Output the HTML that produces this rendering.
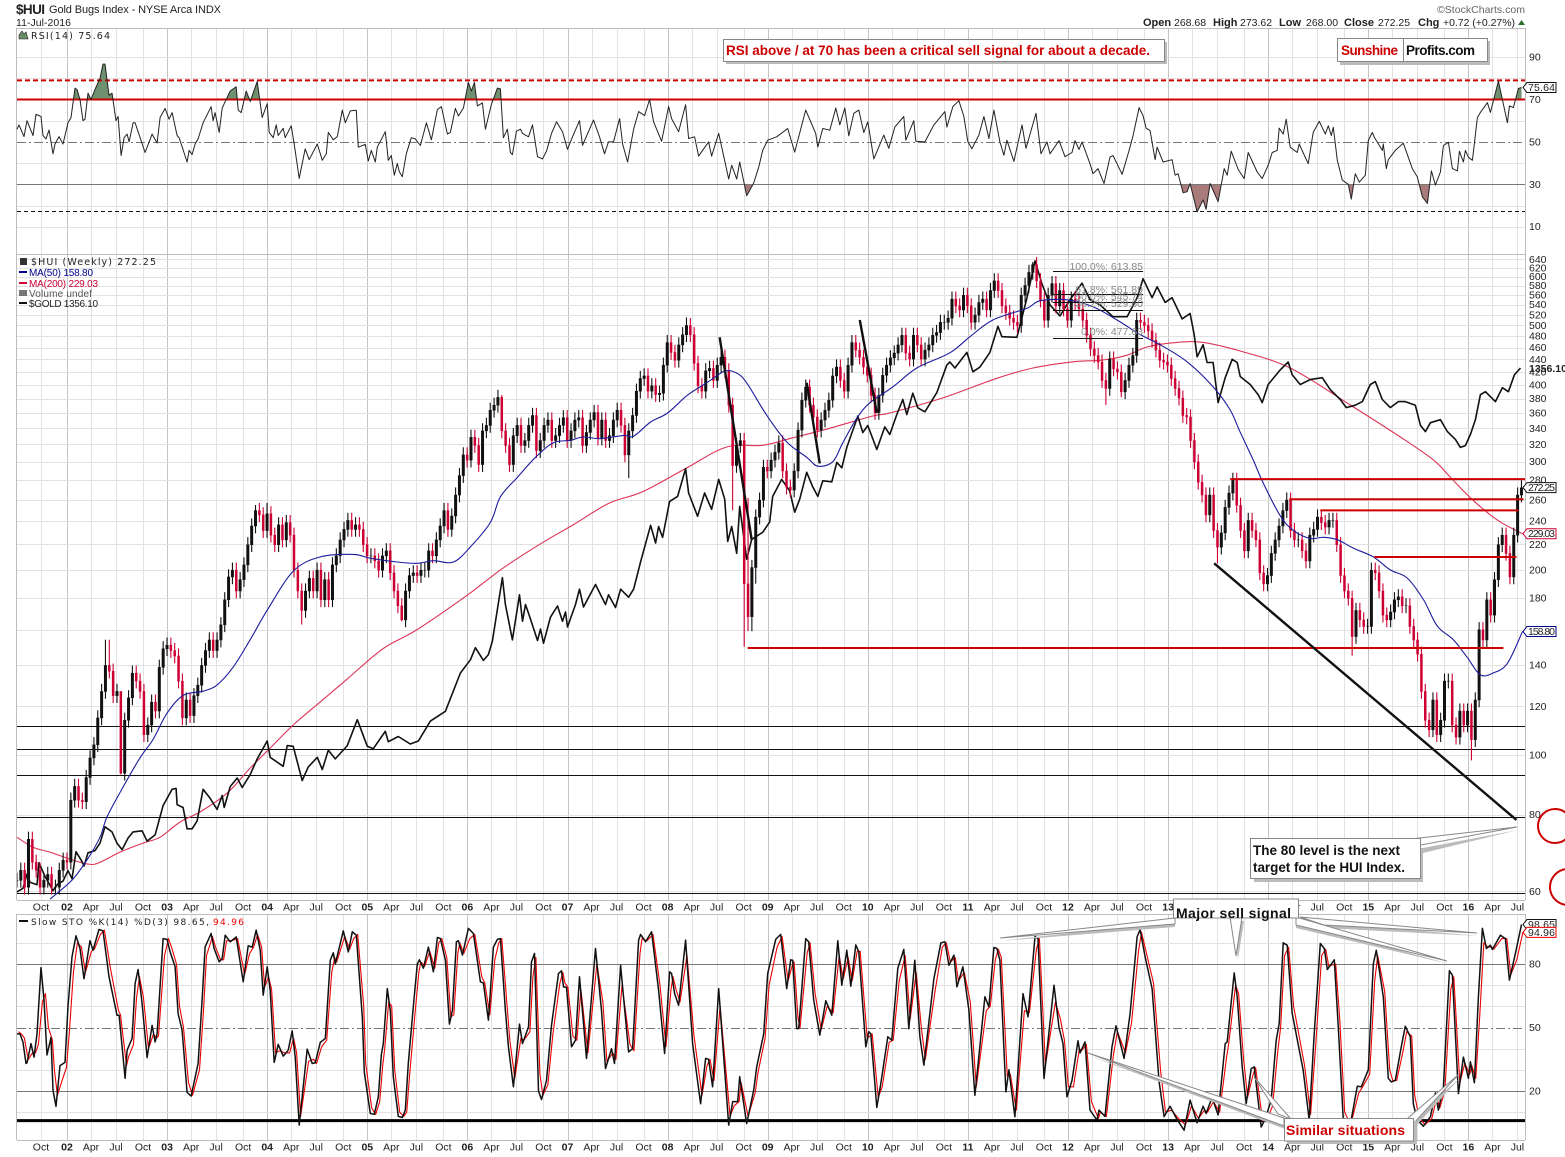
<!DOCTYPE html>
<html lang="en">
<head>
<meta charset="utf-8">
<title>$HUI Gold Bugs Index chart</title>
<style>
html,body{margin:0;padding:0;background:#fff;width:1565px;height:1157px;overflow:hidden}
svg{position:absolute;left:0;top:0;display:block}
text{font-family:"Liberation Sans",Arial,sans-serif;fill:#222}
.dv{font-family:"DejaVu Sans","Liberation Sans",sans-serif}
.note{font-weight:bold;font-size:13.5px}
</style>
</head>
<body>
<svg id="chart" xmlns="http://www.w3.org/2000/svg" width="1565" height="1157" viewBox="0 0 1565 1157">
  <defs>
    <clipPath id="clip-main"><rect x="17" y="254" width="1508" height="646"/></clipPath>
    <clipPath id="clip-rsi"><rect x="17" y="28" width="1508" height="226"/></clipPath>
    <clipPath id="clip-sto"><rect x="17" y="914" width="1508" height="226"/></clipPath>
    <clipPath id="clip-above"><rect x="17" y="28" width="1508" height="71.5"/></clipPath>
    <clipPath id="clip-below"><rect x="17" y="184" width="1508" height="70"/></clipPath>
  </defs>
  <g id="grid"></g>
  <g id="rsi"></g>
  <g id="main"></g>
  <g id="sto"></g>
  <g id="axes"></g>

  <g>
    <text x="16" y="14" font-size="13.5" font-weight="bold" textLength="29">$HUI</text>
    <text x="49" y="13" font-size="11" textLength="172">Gold Bugs Index - NYSE Arca INDX</text>
    <text x="16" y="26" font-size="10.5" textLength="55">11-Jul-2016</text>
    <text x="1437" y="13" font-size="10.5" fill="#666" style="fill:#666" textLength="88">©StockCharts.com</text>
    <g font-size="10.5">
      <text x="1143" y="26" font-weight="bold" font-size="11">Open</text><text x="1174" y="26">268.68</text>
      <text x="1213" y="26" font-weight="bold" font-size="11">High</text><text x="1240" y="26">273.62</text>
      <text x="1279" y="26" font-weight="bold" font-size="11">Low</text><text x="1306" y="26">268.00</text>
      <text x="1344" y="26" font-weight="bold" font-size="11">Close</text><text x="1378" y="26">272.25</text>
      <text x="1418" y="26" font-weight="bold" font-size="11">Chg</text><text x="1443" y="26" textLength="72">+0.72 (+0.27%)</text>
      <polygon points="1518,25 1525,25 1521.5,20" fill="#2a6e2a"/>
    </g>
  </g>

  <g>
    <polygon points="19,39 19,35 22,31 24,34 26,32 28,39" fill="#6b8f6b" stroke="#222" stroke-width="0.6"/>
    <text class="dv" x="31" y="39" font-size="9.5" textLength="79">RSI(14) 75.64</text>
  </g>

  <g>
    <rect x="20" y="258" width="7" height="7" fill="#333"/>
    <text class="dv" x="31" y="265" font-size="9.5" textLength="125">$HUI (Weekly) 272.25</text>
    <rect x="19" y="271" width="8" height="2" fill="#00008b"/>
    <text x="29" y="276" font-size="10" style="fill:#00008b" textLength="64">MA(50) 158.80</text>
    <rect x="19" y="282" width="8" height="2" fill="#cc0033"/>
    <text x="29" y="287" font-size="10" style="fill:#cc0033" textLength="69">MA(200) 229.03</text>
    <rect x="19" y="290" width="8" height="6" fill="#777"/>
    <text x="29" y="297" font-size="10" style="fill:#555" textLength="63">Volume undef</text>
    <rect x="19" y="302" width="8" height="2" fill="#111"/>
    <text x="29" y="307" font-size="10" textLength="69">$GOLD 1356.10</text>
  </g>

  <g>
    <rect x="19" y="920" width="9" height="2" fill="#111"/>
    <text class="dv" x="31" y="925" font-size="9" textLength="178">Slow STO %K(14) %D(3) 98.65,</text>
    <text class="dv" x="213" y="925" font-size="9" style="fill:#e00" textLength="31">94.96</text>
  </g>

  <g font-size="10.5" text-anchor="end">
    <text x="1143" y="270" style="fill:#888">100.0%: 613.85</text>
    <text x="1143" y="293" style="fill:#888">61.8%: 561.89</text>
    <text x="1143" y="300" style="fill:#888">50.0%: 545.74</text>
    <text x="1143" y="307" style="fill:#888">38.2%: 529.60</text>
    <text x="1143" y="335" style="fill:#888">0.0%: 477.63</text>
  </g>

  <g>
    <rect x="726" y="42" width="441" height="22" fill="#bbb"/>
    <rect x="723.5" y="39.5" width="441" height="22" fill="#fff" stroke="#888"/>
    <text class="note" x="726" y="55" style="fill:#cc0000" textLength="424">RSI above / at 70 has been a critical sell signal for about a decade.</text>
  </g>
  <g>
    <rect x="1340" y="41" width="150" height="24" fill="#bbb"/>
    <rect x="1337.5" y="38.5" width="66" height="23" fill="#fff" stroke="#888"/>
    <rect x="1403.5" y="38.5" width="84" height="23" fill="#fff" stroke="#888"/>
    <text class="note" x="1341" y="55" style="fill:#cc0000" textLength="57">Sunshine</text>
    <text class="note" x="1406" y="55" style="fill:#111" textLength="69">Profits.com</text>
  </g>
  <g>
    <polygon points="1423,848 1518,830 1423,853 1423,882 1254,882 1254,842" fill="#bbb"/>
    <polygon points="1415,838.5 1517,827 1421,845" fill="#fff" stroke="#888"/>
    <rect x="1250.5" y="838.5" width="170" height="40" fill="#fff" stroke="#888"/>
    <text class="note" x="1253" y="855" style="fill:#111" textLength="147">The 80 level is the next</text>
    <text class="note" x="1253" y="872" style="fill:#111" textLength="152">target for the HUI Index.</text>
  </g>
  <g fill="none" stroke="#cc0000" stroke-width="2">
    <circle cx="1555" cy="826" r="17"/>
    <circle cx="1568" cy="887" r="18"/>
  </g>
  <g>
    <polygon points="1175,921 1000,941 1175,927" fill="#bbb"/>
    <polygon points="1232,921 1238,959 1244,921" fill="#bbb"/>
    <polygon points="1296,921 1449,964 1296,928" fill="#bbb"/>
    <polygon points="1300,920 1479,936 1324,928" fill="#bbb"/>
    <polygon points="1175,918 1000,938 1175,924" fill="#fff" stroke="#888"/>
    <polygon points="1230,917 1236,956 1242,917" fill="#fff" stroke="#888"/>
    <polygon points="1296,917 1447,961 1296,925" fill="#fff" stroke="#888"/>
    <polygon points="1300,917 1477,933 1324,925" fill="#fff" stroke="#888"/>
    <rect x="1173.5" y="899" width="125" height="19" fill="#fff" stroke="#888"/>
    <text class="note" x="1176" y="918" font-size="14" style="fill:#111;font-size:14px" textLength="115">Major sell signal</text>
  </g>
  <g>
    <polygon points="1285,1121 1090,1056 1285,1129" fill="#bbb"/>
    <polygon points="1410,1121 1460,1078 1415,1127" fill="#bbb"/>
    <polygon points="1284,1118 1088,1053 1284,1126" fill="#fff" stroke="#888"/>
    <polygon points="1291,1119 1254,1077 1278,1114" fill="#fff" stroke="#888"/>
    <polygon points="1408,1118 1458,1075 1413,1124" fill="#fff" stroke="#888"/>
    <rect x="1287" y="1121" width="130" height="23" fill="#bbb"/>
    <rect x="1284.5" y="1118.5" width="129" height="22.5" fill="#fff" stroke="#888"/>
    <text class="note" x="1286" y="1135" style="fill:#cc0000;font-size:14px" textLength="119">Similar situations</text>
  </g>
</svg>

<script>
/* ---------- Time axis ticks ---------- */
const tickYears = [2002,2003,2004,2005,2006,2007,2008,2009,2010,2011,2012,2013,2014,2015,2016];
const yearLabels = ['02','03','04','05','06','07','08','09','10','11','12','13','14','15','16'];
const quarterNames = ['Apr','Jul','Oct'];
const quarterOffsets = [0.24,0.49,0.76];

/* ---------- Value-axis ticks ---------- */
const mainTicks = [640,620,600,580,560,540,520,500,480,460,440,420,400,380,360,340,320,300,280,260,240,220,200,180,160,140,120,100,80,60];
const rsiLabels = [90,70,50,30,10];
const rsiGrid = [90,80,60,40,20,10];
const stoLabels = [80,50,20];
const stoGrid = [90,70,60,40,30,10];

/* ---------- HUI candles: one close every two weeks, grouped by year ---------- */
const barStartYear = 2001.5;
const barStepYears = 15.03/391;
const huiCloses = [
62.6,65,61,73,67,65,61,62.6,64,61,61,65,67.5,
67,84.5,89,84.5,84,92,99,104,115,127,140,137,125,127,93.5,114,124,136,132,127,108,112,122,118,139,149,
151,148,145,132,115,123,116,125,130,140,148,154,148,154,163,179,195,200,185,193,204,220,236,250,246,232,
247,228,220,237,224,239,228,200,185,172,185,194,185,200,179,193,179,204,211,224,233,241,233,237,233,220,
211,211,207,200,211,215,198,185,175,166,185,196,198,196,200,200,215,211,224,236,250,233,245,265,285,308,
302,329,319,297,337,344,364,371,382,337,319,297,331,344,319,325,344,357,313,325,344,351,325,331,344,354,
325,337,351,354,319,335,351,361,328,351,325,331,351,364,344,308,337,357,391,410,414,391,399,386,388,431,
469,452,439,465,483,500,483,434,399,391,422,426,407,431,444,422,371,296,319,325,190,168,202,244,260,294,
290,302,311,322,290,273,270,290,338,378,397,371,355,338,351,364,378,414,428,407,391,431,469,456,444,428,
415,385,361,385,415,431,443,451,465,482,451,441,482,465,441,456,465,482,487,506,506,514,552,538,530,560,
538,506,520,545,552,530,570,591,570,538,525,514,506,500,560,581,610,628,591,550,510,560,585,538,570,532,
510,552,545,532,510,482,458,447,436,407,395,441,425,420,390,407,431,447,510,506,500,490,473,456,439,436,
431,410,395,381,357,355,325,300,278,265,246,265,232,218,230,253,267,280,255,232,215,241,232,224,198,190,
196,213,224,236,250,260,232,224,224,215,207,228,233,244,239,235,241,241,220,196,185,180,156,172,166,162,
162,200,198,185,169,166,171,179,181,175,175,162,154,146,127,114,110,123,108,114,132,132,112,107,118,112,
118,106,123,160,154,179,169,193,220,228,213,195,228,265,272.25];
const highSpikeBars = [23,24,27,62,65,126,174,190,264];
const highSpikeValues = [154,154,120,255,257,385,515,262,634];
const lowSpikeBars = [27,74,100,159,186,189,190,191,192,283,287,312,347,378];
const lowSpikeValues = [93,163,165,282,250,150,159,159,190,371,382,205,145,98];
const defaultWickPct = 0.028;

/* ---------- Moving averages ---------- */
const ma50Dates = [2001.83,2002.05,2002.20,2002.33,2002.40,2002.56,2002.73,2002.86,2003.00,2003.16,2003.36,2003.50,2003.66,2003.83,2004.00,2004.26,2004.53,2004.86,2005.03,2005.30,2005.50,2005.66,2005.86,2006.03,2006.23,2006.33,2006.50,2006.68,2006.86,2007.03,2007.16,2007.33,2007.56,2007.66,2007.83,2008.00,2008.20,2008.40,2008.57,2008.69,2008.79,2008.99,2009.19,2009.39,2009.50,2009.65,2009.75,2009.89,2010.02,2010.25,2010.49,2010.82,2011.02,2011.25,2011.59,2011.72,2011.99,2012.25,2012.49,2012.72,2012.92,2013.19,2013.45,2013.62,2013.72,2013.85,2013.95,2014.12,2014.25,2014.42,2014.55,2014.69,2014.85,2015.05,2015.22,2015.39,2015.55,2015.69,2015.85,2015.99,2016.12,2016.25,2016.39,2016.54];
const ma50Values = [58.3,62.6,67.5,73.5,79.3,88.7,99,106,117,125,127,130,139,154,172,199,210,212,209,206,205,207,206,218,239,263,283,305,322,325,329,327,331,330,348,360,385,404,421,418,403,357,323,305,295,300,322,353,374,397,426,451,479,510,533,548,550,536,510,483,465,436,397,364,335,302,277,245,232,225,226,224,217,210,200,194,179,162,154,144,135,136,141,158.8];
const ma200Dates = [2001.50,2001.66,2001.83,2002.03,2002.20,2002.31,2002.53,2002.76,2002.93,2003.13,2003.33,2003.60,2003.83,2004.06,2004.26,2004.53,2004.80,2005.16,2005.50,2006.00,2006.33,2006.70,2007.06,2007.42,2007.75,2008.19,2008.59,2008.95,2009.25,2009.62,2010.05,2010.22,2010.75,2011.29,2011.65,2012.05,2012.35,2012.59,2012.79,2013.09,2013.35,2013.72,2014.22,2014.82,2015.32,2015.65,2015.82,2016.02,2016.29,2016.54];
const ma200Values = [73.5,70.8,69.5,67.7,66.5,66.7,69.5,71.9,73.5,77.8,80.8,86.7,95.2,103.8,111.9,122,133,149,160,182,200,219,237,257,268,293,317,319,328,340,356,360,381,410,426,436,439,447,461,469,469,454,426,371,329,302,283,262,241,229.03];

/* ---------- $GOLD overlay ---------- */
const goldDates = [2001.50,2001.56,2001.60,2001.63,2001.70,2001.72,2001.78,2001.86,2001.90,2001.96,2002.01,2002.05,2002.09,2002.15,2002.17,2002.21,2002.28,2002.33,2002.38,2002.45,2002.50,2002.55,2002.61,2002.66,2002.75,2002.80,2002.88,2002.96,2003.05,2003.09,2003.10,2003.16,2003.20,2003.25,2003.30,2003.36,2003.43,2003.50,2003.55,2003.57,2003.63,2003.70,2003.75,2003.83,2003.90,2004.00,2004.03,2004.16,2004.20,2004.26,2004.35,2004.41,2004.50,2004.55,2004.61,2004.68,2004.80,2004.90,2005.00,2005.06,2005.18,2005.21,2005.31,2005.43,2005.51,2005.63,2005.78,2005.93,2006.03,2006.08,2006.16,2006.21,2006.25,2006.35,2006.38,2006.45,2006.52,2006.55,2006.58,2006.63,2006.70,2006.73,2006.76,2006.83,2006.90,2006.95,2006.98,2007.00,2007.08,2007.12,2007.16,2007.28,2007.38,2007.41,2007.48,2007.53,2007.61,2007.66,2007.73,2007.83,2007.88,2007.91,2007.95,2008.02,2008.10,2008.18,2008.21,2008.30,2008.37,2008.44,2008.51,2008.57,2008.60,2008.64,2008.69,2008.72,2008.79,2008.84,2008.95,2009.02,2009.05,2009.14,2009.22,2009.27,2009.32,2009.39,2009.45,2009.50,2009.55,2009.64,2009.69,2009.74,2009.79,2009.90,2009.95,2010.00,2010.09,2010.17,2010.22,2010.29,2010.35,2010.39,2010.45,2010.50,2010.57,2010.69,2010.79,2010.82,2010.87,2010.99,2011.05,2011.12,2011.22,2011.30,2011.34,2011.49,2011.59,2011.67,2011.74,2011.82,2011.92,2012.02,2012.14,2012.22,2012.32,2012.45,2012.59,2012.69,2012.75,2012.84,2012.89,2012.97,2013.04,2013.14,2013.22,2013.26,2013.29,2013.35,2013.39,2013.45,2013.50,2013.57,2013.64,2013.69,2013.72,2013.82,2013.90,2013.94,2014.00,2014.04,2014.12,2014.20,2014.24,2014.32,2014.42,2014.54,2014.62,2014.72,2014.78,2014.87,2014.94,2015.02,2015.07,2015.14,2015.22,2015.30,2015.37,2015.47,2015.52,2015.57,2015.62,2015.72,2015.79,2015.87,2015.92,2015.97,2016.02,2016.07,2016.12,2016.17,2016.27,2016.34,2016.40,2016.46,2016.52];
const goldValues = [257,260,272,265,263,282,270,258,263,266,275,268,292,283,279,291,293,300,316,311,300,294,305,311,312,302,308,338,356,357,339,336,314,314,322,356,346,334,349,336,359,369,358,373,392,415,394,383,409,408,366,382,394,379,403,392,409,444,408,405,428,414,421,411,415,442,456,515,537,558,536,546,570,697,640,572,660,607,640,611,571,592,566,615,637,607,625,596,640,672,635,682,640,660,634,672,655,672,733,823,778,820,792,888,902,985,912,847,912,866,952,894,782,820,753,874,739,787,805,832,902,952,918,858,894,974,930,902,948,945,1005,988,1054,1164,1105,1130,1047,1125,1098,1170,1227,1170,1252,1195,1180,1255,1370,1382,1356,1425,1340,1360,1425,1548,1498,1495,1695,1905,1771,1657,1600,1685,1775,1685,1657,1596,1596,1695,1800,1695,1755,1670,1695,1585,1612,1510,1405,1460,1380,1380,1215,1315,1394,1380,1320,1287,1246,1215,1287,1307,1348,1382,1327,1287,1307,1315,1266,1227,1196,1205,1219,1287,1299,1227,1196,1219,1219,1205,1131,1108,1140,1151,1108,1081,1054,1060,1098,1151,1246,1258,1219,1274,1258,1327,1356.1];

/* ---------- Horizontal support / resistance and trend lines ---------- */
const blackLevels = [111.5,102.3,92.8,79.3,59.6];
const redLevelValues = [149.3,281,260.6,250,209.9];
const redLevelStarts = [2008.80,2013.62,2014.21,2014.52,2015.06];
const redLevelEnds = [2016.35,2016.57,2016.55,2016.50,2016.48];
const fibValues = [613.85,561.89,545.74,529.60,477.63];
const fibStart = 2011.85;
const fibEnd = 2012.75;
const trendStartDates = [2008.52,2009.39,2009.92,2013.46];
const trendStartValues = [478,403,510,205];
const trendEndDates = [2008.84,2009.52,2010.09,2016.48];
const trendEndValues = [224,298,360,78.4];

/* ---------- RSI(14) ---------- */
const rsiDates = [2001.50,2001.52,2001.57,2001.60,2001.66,2001.69,2001.74,2001.76,2001.79,2001.82,2001.86,2001.88,2001.92,2001.96,2002.01,2002.04,2002.08,2002.10,2002.13,2002.16,2002.18,2002.21,2002.24,2002.28,2002.33,2002.36,2002.38,2002.42,2002.45,2002.49,2002.51,2002.54,2002.57,2002.60,2002.62,2002.66,2002.68,2002.78,2002.85,2002.90,2002.93,2002.98,2003.02,2003.05,2003.10,2003.12,2003.20,2003.22,2003.25,2003.28,2003.31,2003.36,2003.44,2003.46,2003.48,2003.52,2003.55,2003.58,2003.63,2003.69,2003.71,2003.74,2003.79,2003.83,2003.90,2003.95,2004.00,2004.02,2004.06,2004.09,2004.11,2004.16,2004.18,2004.24,2004.27,2004.32,2004.38,2004.42,2004.50,2004.55,2004.59,2004.61,2004.66,2004.70,2004.75,2004.78,2004.83,2004.89,2004.91,2004.98,2005.01,2005.04,2005.08,2005.10,2005.18,2005.21,2005.24,2005.27,2005.30,2005.32,2005.35,2005.39,2005.44,2005.48,2005.53,2005.59,2005.64,2005.70,2005.74,2005.80,2005.83,2005.88,2005.91,2005.96,2006.01,2006.04,2006.07,2006.10,2006.15,2006.18,2006.24,2006.30,2006.33,2006.36,2006.40,2006.43,2006.45,2006.49,2006.53,2006.55,2006.61,2006.65,2006.70,2006.75,2006.79,2006.84,2006.89,2006.95,2007.00,2007.05,2007.12,2007.15,2007.26,2007.32,2007.37,2007.41,2007.46,2007.52,2007.55,2007.60,2007.66,2007.71,2007.77,2007.82,2007.86,2007.94,2008.01,2008.04,2008.11,2008.18,2008.21,2008.27,2008.31,2008.41,2008.44,2008.51,2008.61,2008.64,2008.69,2008.72,2008.79,2008.86,2008.91,2008.95,2009.00,2009.09,2009.20,2009.27,2009.38,2009.48,2009.50,2009.55,2009.62,2009.68,2009.72,2009.77,2009.81,2009.86,2009.91,2009.96,2010.00,2010.06,2010.16,2010.21,2010.27,2010.36,2010.38,2010.46,2010.48,2010.57,2010.66,2010.77,2010.79,2010.85,2010.91,2010.96,2011.00,2011.04,2011.11,2011.16,2011.21,2011.26,2011.32,2011.36,2011.39,2011.46,2011.54,2011.58,2011.68,2011.73,2011.79,2011.82,2011.91,2011.97,2012.04,2012.07,2012.11,2012.14,2012.22,2012.25,2012.30,2012.36,2012.42,2012.45,2012.49,2012.54,2012.61,2012.65,2012.71,2012.75,2012.78,2012.82,2012.87,2012.89,2012.95,2013.04,2013.07,2013.10,2013.15,2013.19,2013.22,2013.29,2013.35,2013.38,2013.42,2013.50,2013.56,2013.59,2013.63,2013.70,2013.76,2013.80,2013.89,2013.94,2014.00,2014.04,2014.09,2014.11,2014.15,2014.18,2014.22,2014.29,2014.31,2014.40,2014.45,2014.51,2014.57,2014.60,2014.63,2014.65,2014.69,2014.74,2014.80,2014.83,2014.87,2014.91,2014.97,2015.00,2015.04,2015.06,2015.14,2015.15,2015.18,2015.20,2015.27,2015.35,2015.44,2015.49,2015.54,2015.59,2015.63,2015.67,2015.72,2015.75,2015.80,2015.84,2015.89,2015.91,2015.95,2015.97,2016.00,2016.04,2016.09,2016.12,2016.19,2016.22,2016.30,2016.39,2016.41,2016.45,2016.50,2016.53];
const rsiValues = [56,58,52.5,60,53,63,62,53,51.4,55.6,44.4,49,52.5,49,59,61.5,75.4,74.7,70,60,60.7,73,70,74.7,80,86.7,86.7,72,73,60,62,43.6,52,53.7,50,59,59,45,53.7,49.5,61.5,65.8,60.7,63.8,53,52,40.5,46,44,49,51.4,59,66.6,60,63.8,54.5,66,69,74,76,65,63.8,74,69,78.5,61.5,68,54.5,52,58,53,56.4,52,57.6,49,32.8,46.7,41.6,49,41.3,44.4,54.5,51,52.5,65,59,64.6,64.9,47.5,48.8,41,46,40.5,47.5,54.8,41.3,43.6,34.3,39.8,36,33.6,44.4,52,51.4,48.3,59,51,65.3,66.6,53.7,54.5,65.8,62.2,66,78,74,78,67,68.4,56,67.7,75.4,75,52,56,45,44,55,56,54,52.4,58,43,42,45.6,54,59.5,54.8,46.5,52.4,60,48.4,60.3,52.4,44.4,50,50,61,49,40.5,56,64.3,62.4,70,59.5,50.3,66.7,61,54.8,67.5,51.6,52.4,43.3,50,43.3,54,32.5,39,32.5,40.5,24.6,30.6,38,46,50.8,52.4,56.3,45.2,65,54,47.6,56.3,55.5,66,58,66,52.9,63.5,65,54.4,59.5,42,53.2,47,57,62,50.8,60,50.3,50,58,64.3,57,66.7,69.4,62,50,46.8,53.2,62,51.6,65,50,43.7,50.8,40.8,58,47,63.5,44.4,50,44.4,50.6,43,45,50.6,46.4,50,39.7,35,37.4,30.4,42.8,43.6,39.7,34.7,46,53,66.2,62.3,56.5,55.3,41.6,47.5,40.5,41.6,34.3,35,26,26.5,30.4,17,22.6,18.2,30.4,21.8,37.4,34.3,45.6,37,32.7,45,35.8,32.7,39,45,46,56.5,53.7,60.7,47.5,45,49,39.7,54.5,59.7,53.7,57.6,53,56.9,41.3,32,30,23,35,31,34.3,50.6,54.5,52.2,46,49,37.4,41.6,46,49.4,37.4,33.5,24,21,36.3,29.6,35.8,48.3,49.8,37.4,36.3,45.6,40.5,46,42.8,41.3,61.5,63.9,68.5,63.9,78.7,59,67,66.2,75.2,75.64];
const rsiDashedHigh = 79;
const rsiDashedLow = 17.6;

/* ---------- Slow stochastic ---------- */
const stoDates = [2001.50,2001.53,2001.56,2001.59,2001.60,2001.64,2001.67,2001.70,2001.74,2001.77,2001.80,2001.84,2001.86,2001.89,2001.93,2001.98,
2002.01,2002.05,2002.09,2002.13,2002.17,2002.23,2002.26,2002.32,2002.36,2002.42,2002.50,2002.52,2002.58,2002.60,2002.65,2002.68,2002.71,2002.75,2002.80,2002.85,2002.88,2002.90,2002.96,
2003.00,2003.03,2003.08,2003.11,2003.15,2003.20,2003.24,2003.31,2003.35,2003.38,2003.44,2003.47,2003.52,2003.55,2003.58,2003.63,2003.69,2003.76,2003.81,2003.85,2003.89,2003.93,2003.96,
2004.00,2004.03,2004.07,2004.11,2004.16,2004.21,2004.25,2004.28,2004.32,2004.40,2004.45,2004.48,2004.53,2004.58,2004.63,2004.66,2004.68,2004.76,2004.81,2004.85,2004.89,2004.95,2004.97,
2005.03,2005.07,2005.11,2005.14,2005.16,2005.20,2005.23,2005.26,2005.31,2005.35,2005.38,2005.41,2005.46,2005.50,2005.52,2005.56,2005.61,2005.66,2005.70,2005.73,2005.78,2005.82,2005.85,2005.89,2005.91,2005.95,
2006.01,2006.06,2006.13,2006.16,2006.21,2006.26,2006.30,2006.33,2006.38,2006.41,2006.46,2006.52,2006.55,2006.61,2006.64,2006.67,2006.71,2006.74,2006.79,2006.84,2006.91,2006.94,2006.96,2006.99,
2007.04,2007.08,2007.12,2007.19,2007.28,2007.34,2007.38,2007.44,2007.47,2007.53,2007.61,2007.65,2007.71,2007.73,2007.78,2007.84,2007.91,2007.97,
2008.02,2008.04,2008.07,2008.11,2008.18,2008.25,2008.33,2008.38,2008.41,2008.45,2008.51,2008.61,2008.65,2008.70,2008.72,2008.79,2008.86,2008.89,2008.96,
2009.00,2009.08,2009.13,2009.19,2009.23,2009.25,2009.29,2009.31,2009.38,2009.41,2009.46,2009.52,2009.58,2009.64,2009.70,2009.74,2009.79,2009.83,2009.88,2009.91,2009.98,
2010.01,2010.03,2010.09,2010.13,2010.20,2010.24,2010.30,2010.36,2010.41,2010.47,2010.52,2010.56,2010.66,2010.73,2010.77,2010.81,2010.86,2010.89,2010.95,
2011.01,2011.07,2011.17,2011.21,2011.26,2011.29,2011.32,2011.38,2011.41,2011.47,2011.55,2011.60,2011.67,2011.70,2011.76,2011.86,2011.91,2011.95,2011.99,
2012.04,2012.10,2012.12,2012.17,2012.22,2012.29,2012.31,2012.37,2012.44,2012.48,2012.56,2012.62,2012.69,2012.72,2012.77,2012.84,2012.91,2012.96,
2013.02,2013.09,2013.16,2013.22,2013.29,2013.35,2013.38,2013.44,2013.50,2013.57,2013.59,2013.66,2013.69,2013.74,2013.78,2013.83,2013.86,2013.93,2013.97,
2014.03,2014.08,2014.11,2014.15,2014.19,2014.24,2014.35,2014.41,2014.46,2014.52,2014.56,2014.59,2014.66,2014.70,2014.75,2014.81,2014.89,2014.93,
2015.00,2015.05,2015.08,2015.15,2015.20,2015.23,2015.27,2015.33,2015.37,2015.42,2015.45,2015.49,2015.55,2015.62,2015.67,2015.70,2015.75,2015.81,2015.84,2015.90,2015.95,
2016.00,2016.02,2016.06,2016.10,2016.14,2016.18,2016.22,2016.24,2016.32,2016.37,2016.41,2016.47,2016.53];
const stoK = [47,47,43,33,33.3,42.4,36,47,78.3,63,37,45.3,20.4,12.8,32,33.5,
60,83.4,93.3,87.3,73,91,86.5,96.3,95.7,74,55.8,55.8,26,39.3,44.8,70.8,77.4,61.3,35.8,51,43.2,47,92,
91.6,85.7,78.7,56.6,48.7,19.3,17.6,33,63,88,94.4,87.3,81,82.6,93.6,90.5,92.8,71.6,88.6,88,96,86.5,65.3,
78.7,67.6,33.5,42,36.5,39.3,48.4,36,3.9,39.8,33,33.3,43,44.8,81.8,85.3,80,95.7,85.7,95.2,93.6,55,29,
9.4,9,17.2,37,42.4,68.4,58,26.7,8,7.5,11,33,59.8,80,82,78,88,76.3,92.5,92,81.8,51.6,58,90.5,91,84.2,
96.8,94.4,71.6,71,53.5,88,91.6,92,58,41,22,51.6,42.4,50.3,81,85,20,16,25,51,75.5,76.8,69.2,69,
40.9,44,74,35.4,87.3,58,30.6,40,33,79.4,38.5,40,91.3,94,90.5,95.2,67.6,37.7,
76.3,75.5,66,60.5,91.3,42.4,14,35.4,35,22,68.4,3.9,15,15,26.7,4.6,20.4,31.4,47,
75.5,91.6,94,68.4,82,81.8,49.5,49.5,92,90.5,63,46.4,62.6,55.8,91,70,86.5,69.5,89,85.7,40.9,
48,47,12.2,23.5,45.6,44,77.9,86.9,49.5,81.8,45.6,32.2,73.1,90,90.5,79.4,84.2,69.2,78.7,
58.2,18,64.5,59.8,87.8,87.3,81.8,19.6,30,7.8,66,55,93,92,25.9,70,50,42.4,17.2,
25,43.7,38,43.2,11,6.2,11,8,41,50.8,35.4,56.6,92.8,96.3,83.4,68.4,24.3,7.9,
12.8,6.5,1.5,15.7,5,12.8,9.4,17,8.7,42.4,43.2,75.8,64.5,31.4,14,30.6,31.4,3,6.9,
15.7,44,51.9,90,88.9,56.6,29.8,6.2,47,89.7,87.3,77.4,82,50,6.2,1.5,22.3,22,
30,80,86.5,64.5,26,24.3,25,41,50.6,45.6,14,6.2,3.4,7.8,19.1,11,22,76.8,74.7,18.8,36,
26,33.8,23.9,64.5,96.8,87.3,88.9,86.9,93.6,92,72.4,85,98.65];
const stoD = [48,47,45,37,35,38,38,42,62,66,50,44,30,18,24,31,
48,76,90,88,76,86,87,94,96,78,58,56,32,36,42,64,74,64,40,47,45,46,84,
92,88,80,60,50,24,18,30,58,84,93,88,82,82,91,91,92,75,85,88,94,88,69,
74,68,38,39,38,38,45,38,8,34,35,33,41,44,76,83,81,93,87,92,94,60,33,
12,9,15,32,40,62,60,30,10,8,10,28,55,76,81,79,86,78,90,92,83,55,56,85,90,85,
92,94,74,71,56,82,90,92,62,44,26,45,44,48,74,83,28,18,23,47,71,76,71,69,
46,44,68,38,80,62,34,38,35,70,42,39,85,92,91,94,70,41,
68,74,68,62,84,46,18,32,35,25,60,8,13,15,24,8,19,29,45,
70,88,93,72,79,81,54,50,85,90,66,49,60,57,84,73,83,72,86,86,45,
46,47,17,22,43,44,72,84,54,76,50,35,68,88,90,81,83,72,76,
62,22,58,60,82,87,83,27,28,11,58,57,87,92,32,62,54,44,22,
22,40,39,42,15,7,10,8,37,48,38,52,86,95,85,71,30,10,
11,7,4,13,7,11,10,15,10,36,42,70,66,35,17,27,31,6,6,
13,38,50,84,88,60,32,9,41,84,87,79,80,54,10,4,19,22,
28,72,84,67,30,25,25,38,48,46,18,8,4,7,17,12,20,68,74,24,33,
28,32,26,56,90,88,88,87,92,92,75,82,94.96];
const stoThickLevel = 6;

/* ---------- Axis functions ---------- */
function xOf(d){return 67+(d-2002)*100.1;}
function yRsi(v){return 99.5+(70-v)*2.12;}
function yMain(v){return 755-267*Math.log(v/100);}
function yGold(v){return 368-315*Math.log(v/1356.1);}
function ySto(v){return 964+(80-v)*2.117;}

const NS='http://www.w3.org/2000/svg';
function mk(tag,parent,attrs){
  const e=document.createElementNS(NS,tag);
  for(const k in attrs){e.setAttribute(k,attrs[k]);}
  parent.appendChild(e);
  return e;
}
function pts(dates,values,xf,yf){
  return dates.map(function(d,i){return xf(d).toFixed(1)+','+yf(values[i]).toFixed(1);}).join(' ');
}
/* Catmull-Rom curve through the data points, used for the smooth moving averages */
function smoothPath(dates,values,xf,yf){
  const p=dates.map(function(d,i){return [xf(d),yf(values[i])];});
  let s='M'+p[0][0].toFixed(1)+' '+p[0][1].toFixed(1);
  for(let i=0;i<p.length-1;i++){
    const a=p[Math.max(i-1,0)],b=p[i],c=p[i+1],e=p[Math.min(i+2,p.length-1)];
    const c1x=b[0]+(c[0]-a[0])/6,c1y=b[1]+(c[1]-a[1])/6;
    const c2x=c[0]-(e[0]-b[0])/6,c2y=c[1]-(e[1]-b[1])/6;
    s+=' C'+c1x.toFixed(1)+' '+c1y.toFixed(1)+' '+c2x.toFixed(1)+' '+c2y.toFixed(1)+' '+c[0].toFixed(1)+' '+c[1].toFixed(1);
  }
  return s;
}
const gridG=document.getElementById('grid');
const rsiG=document.getElementById('rsi');
const mainG=document.getElementById('main');
const stoG=document.getElementById('sto');
const axesG=document.getElementById('axes');

/* ---------- Vertical grid + time labels ---------- */
function vline(x,color){
  const a=mk('line',gridG,{x1:x,x2:x,y1:28,y2:900,stroke:color,'stroke-width':1});
  
  
  const b=mk('line',gridG,{x1:x,x2:x,y1:914,y2:1140,stroke:color,'stroke-width':1});
  
  
}
function timeLabel(x,txt,bold){
  [907,1147].forEach(function(cy){
    const t=mk('text',axesG,{x:x,y:cy+3.5,'font-size':10.5,'text-anchor':'middle'});
    
    
    if(bold){t.setAttribute('font-weight','bold');}
    t.textContent=txt;
  });
}
vline(Math.round(xOf(2001.74))+.5,'#e2e2e2');
timeLabel(xOf(2001.74),'Oct',false);
tickYears.forEach(function(y,i){
  const xx=Math.round(xOf(y))+.5;
  vline(xx,'#c4c4c4');
  timeLabel(xOf(y),yearLabels[i],true);
  quarterNames.forEach(function(q,j){
    const d=y+quarterOffsets[j];
    if(xOf(d)<1525){
      vline(Math.round(xOf(d))+.5,'#e2e2e2');
      timeLabel(xOf(d),q,false);
    }
  });
});

/* ---------- Horizontal grid + value labels ---------- */
function hline(y,color,w,dash,group,name,x1,x2){
  const l=mk('line',group,{x1:x1===undefined?17:x1,x2:x2===undefined?1525:x2,y1:y,y2:y,stroke:color,'stroke-width':w});
  
  
  if(dash){l.setAttribute('stroke-dasharray',dash);}
  return l;
}
function valLabel(y,txt){
  const t=mk('text',axesG,{x:1529,y:y+3.5,'font-size':10.5});
  
  
  t.textContent=txt;
}
rsiGrid.forEach(function(v){hline(Math.round(yRsi(v))+.5,'#e2e2e2',1,null,gridG,'rsi-gridline');});
mainTicks.forEach(function(v){
  hline(Math.round(yMain(v))+.5,'#e2e2e2',1,null,gridG,'price-gridline');
  if(v!==160){valLabel(yMain(v),String(v));}
});
stoGrid.forEach(function(v){hline(Math.round(ySto(v))+.5,'#e2e2e2',1,null,gridG,'sto-gridline');});
rsiLabels.forEach(function(v){valLabel(yRsi(v),String(v));});
stoLabels.forEach(function(v){valLabel(ySto(v),String(v));});

/* Panel frames */
[28,254,900,914,1140].forEach(function(y){hline(y+.5,'#bdbdbd',1,null,gridG,'panel-border');});
[16.5,1525.5].forEach(function(x){
  [[28,900],[914,1140]].forEach(function(r){
    const l=mk('line',gridG,{x1:x,x2:x,y1:r[0],y2:r[1],stroke:'#bdbdbd','stroke-width':1});
    
    
  });
});

/* ---------- RSI panel ---------- */
(function(){
  const linePts=pts(rsiDates,rsiValues,xOf,yRsi);
  const x0=xOf(rsiDates[0]).toFixed(1), x1=xOf(rsiDates[rsiDates.length-1]).toFixed(1);
  const y70=yRsi(70).toFixed(1), y30=yRsi(30).toFixed(1);
  const up=mk('polygon',rsiG,{points:linePts+' '+x1+','+y70+' '+x0+','+y70,fill:'#6f916f','clip-path':'url(#clip-above)'});
  
  
  const dn=mk('polygon',rsiG,{points:linePts+' '+x1+','+y30+' '+x0+','+y30,fill:'#a97b7b','clip-path':'url(#clip-below)'});
  
  
  hline(Math.round(yRsi(50))+.5,'#777',1,'9 3 2 3',rsiG,'rsi-50-line');
  hline(Math.round(yRsi(30))+.5,'#777',1,null,rsiG,'rsi-30-line');
  hline(Math.round(yRsi(rsiDashedLow))+.5,'#111',1,'4 3',rsiG,'rsi-lower-dashed-line');
  hline(yRsi(rsiDashedHigh),'#cc0000',2,'5 3',rsiG,'rsi-upper-dashed-line');
  hline(yRsi(70),'#cc0000',2,null,rsiG,'rsi-70-line');
  const l=mk('polyline',rsiG,{points:linePts,fill:'none',stroke:'#222','stroke-width':1,'stroke-linejoin':'round'});
  
  
})();

/* ---------- Price panel ---------- */
(function(){
  const g=mk('g',mainG,{'clip-path':'url(#clip-main)'});
  blackLevels.forEach(function(v){hline(Math.round(yMain(v))+.5,'#111',1,null,g,'support-level-line');});

  const ma200=mk('path',g,{d:smoothPath(ma200Dates,ma200Values,xOf,yMain),fill:'none',stroke:'#dd3355','stroke-width':1.1});
  
  

  const gold=mk('polyline',g,{points:pts(goldDates,goldValues,xOf,yGold),fill:'none',stroke:'#111','stroke-width':1.6,'stroke-linejoin':'round'});
  
  

  huiCloses.forEach(function(c,i){
    const o=i===0?c:huiCloses[i-1];
    let hi=Math.max(o,c)*(1+defaultWickPct);
    let lo=Math.min(o,c)*(1-defaultWickPct);
    const hs=highSpikeBars.indexOf(i);
    if(hs>=0){hi=highSpikeValues[hs];}
    const ls=lowSpikeBars.indexOf(i);
    if(ls>=0){lo=lowSpikeValues[ls];}
    const x=xOf(barStartYear+i*barStepYears);
    const down=c<o;
    const col=down?'#cc0033':'#111';
    const bar=mk('g',g,{});
    
    
    mk('line',bar,{x1:x,x2:x,y1:yMain(hi),y2:yMain(lo),stroke:col,'stroke-width':1.1});
    mk('line',bar,{x1:x,x2:x,y1:yMain(Math.max(o,c)),y2:yMain(Math.min(o,c))+0.5,stroke:col,'stroke-width':down?2.5:3});
  });

  const ma50=mk('path',g,{d:smoothPath(ma50Dates,ma50Values,xOf,yMain),fill:'none',stroke:'#1c1c9c','stroke-width':1.1});
  
  

  redLevelValues.forEach(function(v,i){
    const l=mk('line',g,{x1:xOf(redLevelStarts[i]),x2:xOf(redLevelEnds[i]),y1:yMain(v),y2:yMain(v),stroke:'#cc0000','stroke-width':2});
    
    
  });
  fibValues.forEach(function(v){
    const l=mk('line',g,{x1:xOf(fibStart),x2:xOf(fibEnd),y1:Math.round(yMain(v))+.5,y2:Math.round(yMain(v))+.5,stroke:'#111','stroke-width':1});
    
    
  });
  trendStartDates.forEach(function(d,i){
    const l=mk('line',g,{x1:xOf(d),x2:xOf(trendEndDates[i]),y1:yMain(trendStartValues[i]),y2:yMain(trendEndValues[i]),stroke:'#111','stroke-width':2.4});
    
    
  });
})();

/* ---------- Stochastic panel ---------- */
(function(){
  const g=mk('g',stoG,{'clip-path':'url(#clip-sto)'});
  hline(Math.round(ySto(80))+.5,'#777',1,null,g,'sto-80-line');
  hline(Math.round(ySto(20))+.5,'#777',1,null,g,'sto-20-line');
  hline(Math.round(ySto(50))+.5,'#777',1,'9 3 2 3',g,'sto-50-line');
  hline(ySto(stoThickLevel),'#000',3,null,g,'sto-thick-level-line');
  const lagYears=0.014;
  const d=mk('polyline',g,{points:pts(stoDates,stoD,function(t){return xOf(t+lagYears);},ySto),fill:'none',stroke:'#ee0000','stroke-width':1.1,'stroke-linejoin':'round'});
  
  
  const k=mk('polyline',g,{points:pts(stoDates,stoK,xOf,ySto),fill:'none',stroke:'#111','stroke-width':1.5,'stroke-linejoin':'round'});
  
  
})();

/* ---------- Price tags at right edge ---------- */
const tagLabels = ['75.64','272.25','229.03','158.80','98.65','94.96'];
const tagValues = [75.64,272.25,229.03,158.8,98.65,94.96];
const tagPanels = ['rsi','main','main','main','sto','sto'];
const tagColors = ['#111','#111','#cc0033','#00008b','#111','#ee0000'];
tagLabels.forEach(function(txt,i){
  const f=tagPanels[i]==='rsi'?yRsi:(tagPanels[i]==='main'?yMain:ySto);
  const y=f(tagValues[i]);
  const g=mk('g',axesG,{});
  
  
  mk('polygon',g,{points:'1523,'+y+' 1527,'+(y-5)+' 1556,'+(y-5)+' 1556,'+(y+5)+' 1527,'+(y+5),fill:'#fff',stroke:tagColors[i],'stroke-width':1});
  const t=mk('text',g,{x:1528,y:y+3.5,'font-size':10.5,textLength:27});
  t.textContent=txt;
});
const goldLabel=mk('text',axesG,{x:1529,y:yGold(1356.1)+4,'font-size':10.5,'font-weight':'bold'});


goldLabel.textContent='1356.10';
</script>
</body>
</html>
